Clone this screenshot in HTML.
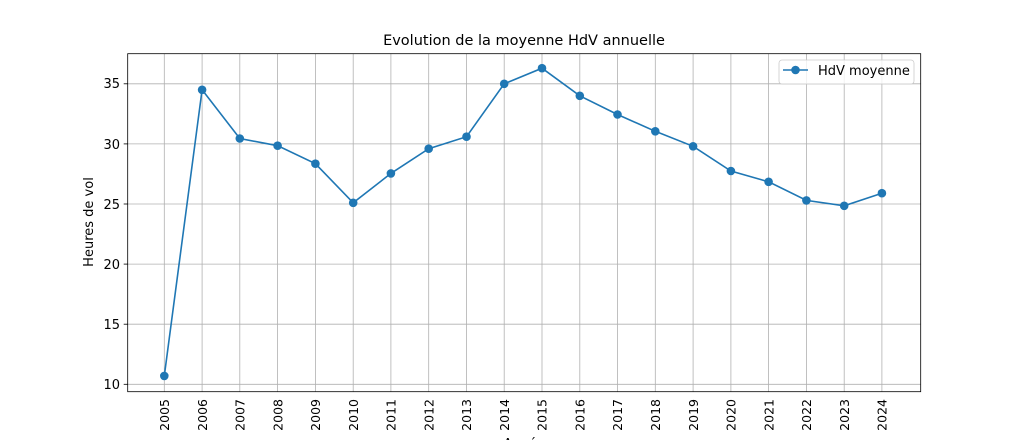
<!DOCTYPE html>
<html><head><meta charset="utf-8"><style>
body{margin:0;background:#fff;}
text{font-family:"DejaVu Sans","Liberation Sans",sans-serif;fill:#000;}
</style></head><body>
<svg width="1022" height="440" xmlns="http://www.w3.org/2000/svg">
<rect width="1022" height="440" fill="#fff"/>
<g stroke="#b0b0b0" stroke-width="0.8">
<line x1="164.3" y1="53.7" x2="164.3" y2="391.7"/><line x1="202.1" y1="53.7" x2="202.1" y2="391.7"/><line x1="239.8" y1="53.7" x2="239.8" y2="391.7"/><line x1="277.6" y1="53.7" x2="277.6" y2="391.7"/><line x1="315.4" y1="53.7" x2="315.4" y2="391.7"/><line x1="353.2" y1="53.7" x2="353.2" y2="391.7"/><line x1="390.9" y1="53.7" x2="390.9" y2="391.7"/><line x1="428.7" y1="53.7" x2="428.7" y2="391.7"/><line x1="466.5" y1="53.7" x2="466.5" y2="391.7"/><line x1="504.2" y1="53.7" x2="504.2" y2="391.7"/><line x1="542" y1="53.7" x2="542" y2="391.7"/><line x1="579.8" y1="53.7" x2="579.8" y2="391.7"/><line x1="617.5" y1="53.7" x2="617.5" y2="391.7"/><line x1="655.3" y1="53.7" x2="655.3" y2="391.7"/><line x1="693.1" y1="53.7" x2="693.1" y2="391.7"/><line x1="730.9" y1="53.7" x2="730.9" y2="391.7"/><line x1="768.6" y1="53.7" x2="768.6" y2="391.7"/><line x1="806.4" y1="53.7" x2="806.4" y2="391.7"/><line x1="844.2" y1="53.7" x2="844.2" y2="391.7"/><line x1="881.9" y1="53.7" x2="881.9" y2="391.7"/>
<line x1="127.7" y1="384.3" x2="920.7" y2="384.3"/><line x1="127.7" y1="324.2" x2="920.7" y2="324.2"/><line x1="127.7" y1="264.1" x2="920.7" y2="264.1"/><line x1="127.7" y1="204" x2="920.7" y2="204"/><line x1="127.7" y1="143.9" x2="920.7" y2="143.9"/><line x1="127.7" y1="83.8" x2="920.7" y2="83.8"/>
</g>
<rect x="127.7" y="53.7" width="793" height="338" fill="none" stroke="#000" stroke-width="0.8"/>
<g stroke="#000" stroke-width="0.8">
<line x1="123.7" y1="384.3" x2="127.7" y2="384.3"/><line x1="123.7" y1="324.2" x2="127.7" y2="324.2"/><line x1="123.7" y1="264.1" x2="127.7" y2="264.1"/><line x1="123.7" y1="204" x2="127.7" y2="204"/><line x1="123.7" y1="143.9" x2="127.7" y2="143.9"/><line x1="123.7" y1="83.8" x2="127.7" y2="83.8"/>
</g>
<g font-size="13" text-anchor="end">
<text x="120" y="389">10</text><text x="120" y="329">15</text><text x="120" y="269">20</text><text x="120" y="209">25</text><text x="120" y="149">30</text><text x="120" y="88">35</text>
</g>
<g font-size="12.5" text-anchor="end">
<text transform="translate(169,399) rotate(-90)">2005</text><text transform="translate(207,399) rotate(-90)">2006</text><text transform="translate(244.5,399) rotate(-90)">2007</text><text transform="translate(282.3,399) rotate(-90)">2008</text><text transform="translate(320.1,399) rotate(-90)">2009</text><text transform="translate(357.9,399) rotate(-90)">2010</text><text transform="translate(395.6,399) rotate(-90)">2011</text><text transform="translate(433.4,399) rotate(-90)">2012</text><text transform="translate(471.2,399) rotate(-90)">2013</text><text transform="translate(508.9,399) rotate(-90)">2014</text><text transform="translate(546.7,399) rotate(-90)">2015</text><text transform="translate(584.5,399) rotate(-90)">2016</text><text transform="translate(622.2,399) rotate(-90)">2017</text><text transform="translate(660,399) rotate(-90)">2018</text><text transform="translate(697.8,399) rotate(-90)">2019</text><text transform="translate(735.6,399) rotate(-90)">2020</text><text transform="translate(773.3,399) rotate(-90)">2021</text><text transform="translate(811.1,399) rotate(-90)">2022</text><text transform="translate(848.9,399) rotate(-90)">2023</text><text transform="translate(886.6,399) rotate(-90)">2024</text>
</g>
<text x="524" y="448" font-size="13" text-anchor="middle">Année</text>
<text transform="translate(93,222) rotate(-90)" font-size="13" text-anchor="middle">Heures de vol</text>
<text x="524" y="45" font-size="14.5" text-anchor="middle">Evolution de la moyenne HdV annuelle</text>
<polyline fill="none" stroke="#1f77b4" stroke-width="1.6" points="164.3,375.9 202.1,89.8 239.8,138.5 277.6,145.7 315.4,163.7 353.2,202.8 390.9,173.4 428.7,148.7 466.5,136.7 504.2,83.8 542,68.2 579.8,95.8 617.5,114.5 655.3,131.3 693.1,146.3 730.9,171 768.6,181.8 806.4,200.4 844.2,205.8 881.9,193.2"/>
<g fill="#1f77b4">
<circle cx="164.3" cy="375.9" r="4.3"/><circle cx="202.1" cy="89.8" r="4.3"/><circle cx="239.8" cy="138.5" r="4.3"/><circle cx="277.6" cy="145.7" r="4.3"/><circle cx="315.4" cy="163.7" r="4.3"/><circle cx="353.2" cy="202.8" r="4.3"/><circle cx="390.9" cy="173.4" r="4.3"/><circle cx="428.7" cy="148.7" r="4.3"/><circle cx="466.5" cy="136.7" r="4.3"/><circle cx="504.2" cy="83.8" r="4.3"/><circle cx="542" cy="68.2" r="4.3"/><circle cx="579.8" cy="95.8" r="4.3"/><circle cx="617.5" cy="114.5" r="4.3"/><circle cx="655.3" cy="131.3" r="4.3"/><circle cx="693.1" cy="146.3" r="4.3"/><circle cx="730.9" cy="171" r="4.3"/><circle cx="768.6" cy="181.8" r="4.3"/><circle cx="806.4" cy="200.4" r="4.3"/><circle cx="844.2" cy="205.8" r="4.3"/><circle cx="881.9" cy="193.2" r="4.3"/>
</g>
<rect x="779" y="60" width="135" height="24" rx="3" fill="#fff" fill-opacity="0.8" stroke="#ccc" stroke-width="0.8"/>
<line x1="783" y1="70" x2="808" y2="70" stroke="#1f77b4" stroke-width="1.6"/>
<circle cx="795.5" cy="70" r="4.3" fill="#1f77b4"/>
<text x="818" y="75" font-size="13">HdV moyenne</text>
</svg>
</body></html>
